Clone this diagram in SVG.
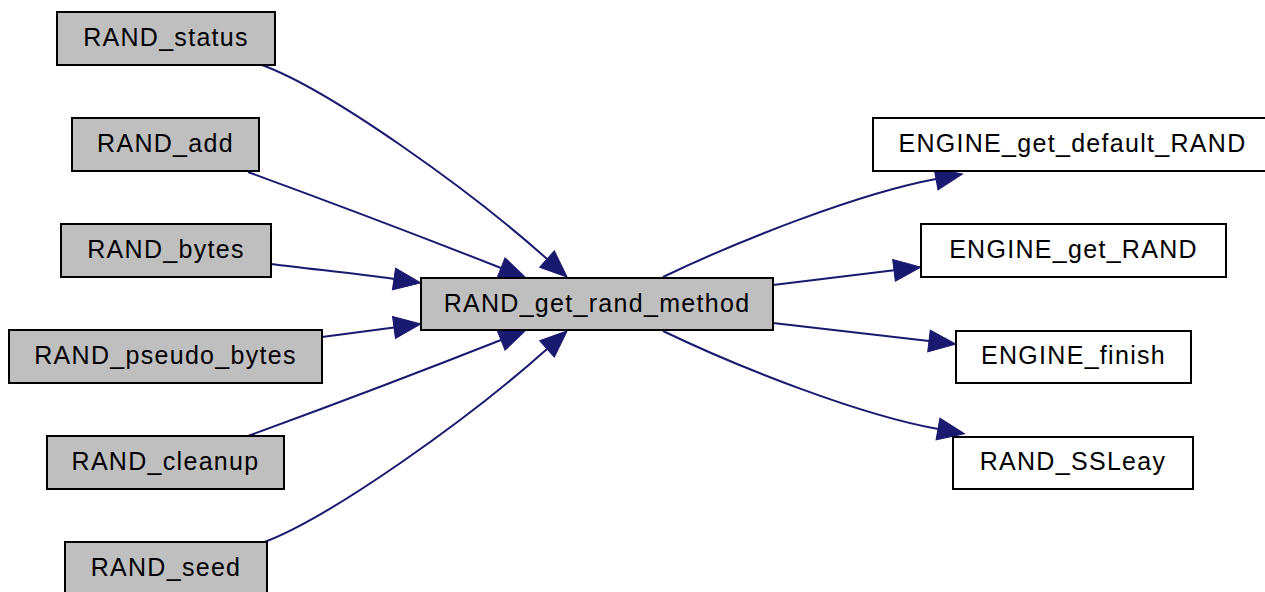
<svg xmlns="http://www.w3.org/2000/svg" width="1265" height="592" viewBox="0 0 1265 592">
  <style>
    .caller rect { fill: #bfbfbf; stroke: #000; stroke-width: 2; }
    .callee rect { fill: #fff; stroke: #000; stroke-width: 2; }
    text { font-family: "Liberation Sans", Arial, sans-serif; font-size: 25px; letter-spacing: 1.3px; text-anchor: middle; fill: #000; }
    .edge { fill: none; stroke: #191970; stroke-width: 2; marker-end: url(#arrow); }
  </style>
  <defs>
    <marker id="arrow" markerUnits="userSpaceOnUse" markerWidth="28" markerHeight="24" refX="0" refY="11" orient="auto" overflow="visible">
      <path d="M0,0 L27,11 L0,22 z" fill="#191970" stroke="#191970" stroke-width="1"/>
    </marker>
  </defs>

  <rect width="1265" height="592" fill="#fff"/>

  <g id="edges">
    <path class="edge" d="M262,65 C330,90 470,190 547,259"/>
    <path class="edge" d="M248,172 C330,202 430,240 501,268"/>
    <path class="edge" d="M271,264 C310,269 360,274 394,279"/>
    <path class="edge" d="M322,337 L394,327.5"/>
    <path class="edge" d="M248,436 C330,406 430,368 501,340"/>
    <path class="edge" d="M262,543 C330,518 470,418 547,349"/>
    <path class="edge" d="M663,277 C740,240 860,193 936,179"/>
    <path class="edge" d="M773,285 L894,270.3"/>
    <path class="edge" d="M773,323 L929,341"/>
    <path class="edge" d="M663,331 C740,368 860,415 938,429"/>
  </g>

  <g id="node-RAND_status" class="caller">
    <rect x="57" y="12" width="218" height="53"/>
    <text x="166" y="46">RAND_status</text>
  </g>
  <g id="node-RAND_add" class="caller">
    <rect x="72" y="118" width="187" height="53"/>
    <text x="165.5" y="152">RAND_add</text>
  </g>
  <g id="node-RAND_bytes" class="caller">
    <rect x="61" y="224" width="210" height="53"/>
    <text x="166" y="258">RAND_bytes</text>
  </g>
  <g id="node-RAND_pseudo_bytes" class="caller">
    <rect x="9" y="330" width="313" height="53"/>
    <text x="165.5" y="364">RAND_pseudo_bytes</text>
  </g>
  <g id="node-RAND_cleanup" class="caller">
    <rect x="47" y="436" width="237" height="53"/>
    <text x="165.5" y="470">RAND_cleanup</text>
  </g>
  <g id="node-RAND_seed" class="caller">
    <rect x="65" y="542" width="202" height="53"/>
    <text x="166" y="576">RAND_seed</text>
  </g>
  <g id="node-RAND_get_rand_method" class="caller">
    <rect x="421" y="278" width="352" height="52"/>
    <text x="597" y="312">RAND_get_rand_method</text>
  </g>
  <g id="node-ENGINE_get_default_RAND" class="callee">
    <rect x="873" y="118" width="399" height="53"/>
    <text x="1072.5" y="152">ENGINE_get_default_RAND</text>
  </g>
  <g id="node-ENGINE_get_RAND" class="callee">
    <rect x="921" y="224" width="305" height="53"/>
    <text x="1073.5" y="258">ENGINE_get_RAND</text>
  </g>
  <g id="node-ENGINE_finish" class="callee">
    <rect x="956" y="331" width="235" height="52"/>
    <text x="1073.5" y="364">ENGINE_finish</text>
  </g>
  <g id="node-RAND_SSLeay" class="callee">
    <rect x="953" y="437" width="240" height="52"/>
    <text x="1073" y="470">RAND_SSLeay</text>
  </g>
</svg>
